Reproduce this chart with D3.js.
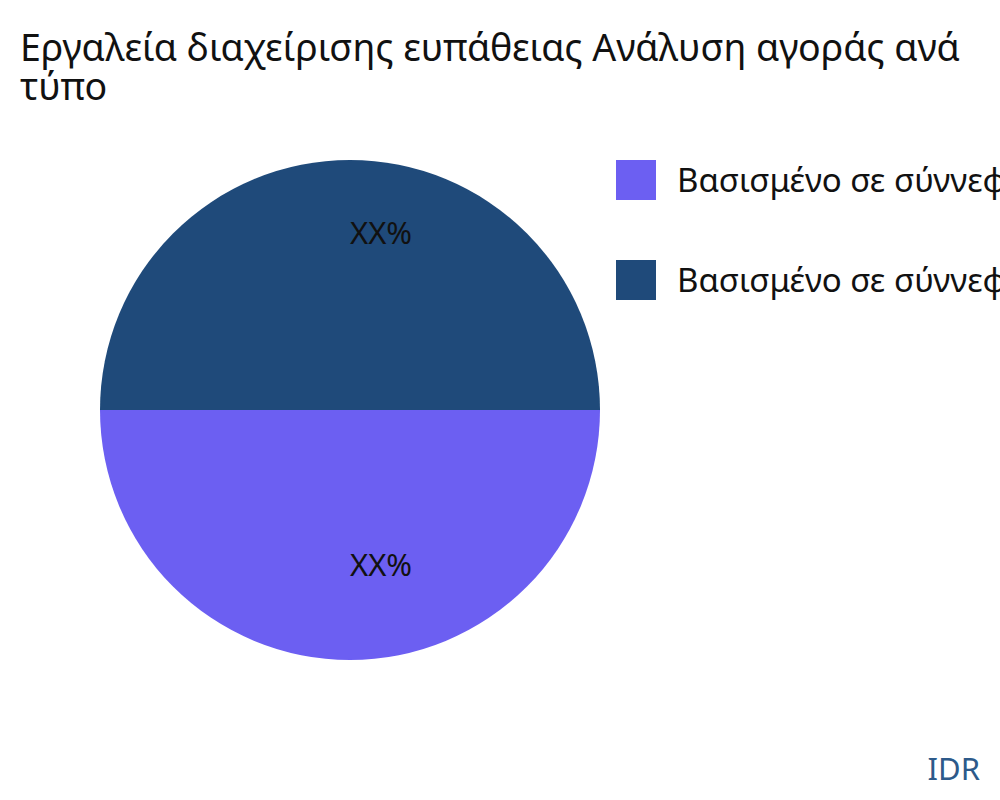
<!DOCTYPE html>
<html>
<head>
<meta charset="utf-8">
<script src="https://cdn.jsdelivr.net/npm/d3@7"></script>
<style>
  body { margin: 0; background: #fff; }
  svg { display: block; font-family: "Noto Sans", sans-serif; }
</style>
</head>
<body>
<svg id="chart" width="1000" height="800"></svg>
<script>
const titleLines = ["Εργαλεία διαχείρισης ευπάθειας Ανάλυση αγοράς ανά", "τύπο"];
const categories = ["Βασισμένο σε σύννεφο", "Βασισμένο σε σύννεφο"];
const values = [50, 50];
const labels = ["XX%", "XX%"];
const colors = ["#6c5ff2", "#1f4a7a"];

function main() {
  const svg = d3.select('#chart');

  svg.append('text')
    .attr('font-size', 37.5)
    .attr('fill', '#111')
    .selectAll('tspan')
    .data(titleLines)
    .join('tspan')
      .attr('x', 20)
      .attr('y', (d, i) => 61 + i * 39)
      .text(d => d);

  const cx = 350, cy = 410, r = 250;
  const pie = d3.pie().sort(null)
    .startAngle(Math.PI / 2)
    .endAngle(Math.PI / 2 + 2 * Math.PI);
  const arcs = pie(values);
  const arc = d3.arc().innerRadius(0).outerRadius(r);
  const labelArc = d3.arc().innerRadius(r * 0.665).outerRadius(r * 0.665);

  const g = svg.append('g').attr('transform', `translate(${cx},${cy})`);
  g.selectAll('path')
    .data(arcs)
    .join('path')
      .attr('d', arc)
      .attr('fill', (d, i) => colors[i]);

  g.selectAll('text')
    .data(arcs)
    .join('text')
      .attr('x', d => labelArc.centroid(d)[0])
      .attr('y', d => labelArc.centroid(d)[1])
      .attr('font-size', 31)
      .attr('fill', '#111')
      .text((d, i) => labels[i]);

  const legend = svg.append('g').attr('transform', 'translate(616,160)');
  const item = legend.selectAll('g')
    .data(categories)
    .join('g')
      .attr('transform', (d, i) => `translate(0,${i * 100})`);
  item.append('rect')
    .attr('width', 40)
    .attr('height', 40)
    .attr('fill', (d, i) => colors[i]);
  item.append('text')
    .attr('x', 61)
    .attr('y', 32)
    .attr('font-size', 33)
    .attr('fill', '#111')
    .text(d => d);

  svg.append('text')
    .attr('x', 980)
    .attr('y', 780)
    .attr('text-anchor', 'end')
    .attr('font-size', 31)
    .attr('fill', '#2d5a8a')
    .text('IDR');
}

window.onload = main;
</script>
</body>
</html>
